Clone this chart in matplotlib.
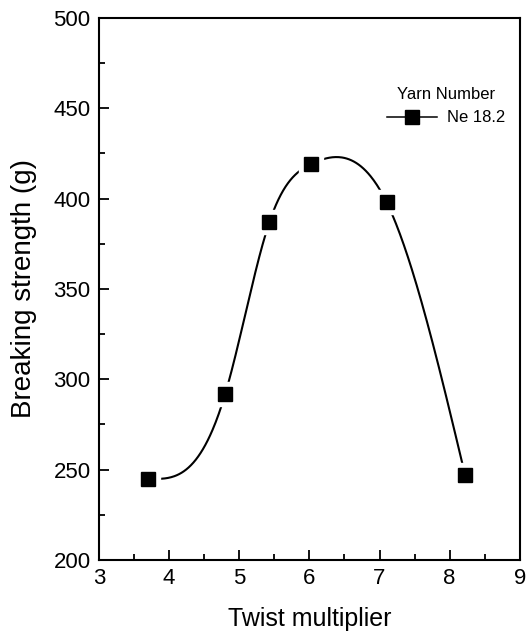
import numpy as np
import matplotlib
matplotlib.use("Agg")
import matplotlib.pyplot as plt
from matplotlib.ticker import MultipleLocator
from matplotlib.lines import Line2D

plt.rcParams['font.family'] = ['Liberation Sans', 'DejaVu Sans']

# data
twist = [3.70, 4.80, 5.43, 6.02, 7.10, 8.22]
strength = [245, 292, 387, 419, 398, 247]
series_name = "Ne 18.2"
legend_title = "Yarn Number"


def natural_spline(x, y, n=400):
    # plain natural cubic spline, only used for the smooth connecting line
    x = np.asarray(x, float)
    y = np.asarray(y, float)
    k = len(x)
    h = np.diff(x)
    A = np.zeros((k, k))
    b = np.zeros(k)
    A[0, 0] = A[-1, -1] = 1
    for i in range(1, k - 1):
        A[i, i - 1] = h[i - 1]
        A[i, i] = 2 * (h[i - 1] + h[i])
        A[i, i + 1] = h[i]
        b[i] = 6 * ((y[i + 1] - y[i]) / h[i] - (y[i] - y[i - 1]) / h[i - 1])
    M = np.linalg.solve(A, b)
    xs = np.linspace(x[0], x[-1], n)
    idx = np.clip(np.searchsorted(x, xs) - 1, 0, k - 2)
    x0, x1 = x[idx], x[idx + 1]
    hh = x1 - x0
    t0 = x1 - xs
    t1 = xs - x0
    ys = (M[idx] * t0**3 + M[idx + 1] * t1**3) / (6 * hh) \
        + (y[idx] / hh - M[idx] * hh / 6) * t0 \
        + (y[idx + 1] / hh - M[idx + 1] * hh / 6) * t1
    return xs, ys


fig = plt.figure(figsize=(5.28, 6.35), dpi=100)
ax = fig.add_axes([0.1875, 0.118, 0.797, 0.854])

xs, ys = natural_spline(twist, strength)
ax.plot(xs, ys, color='black', lw=1.5, zorder=2)
# white halo so the line stops short of each marker
ax.plot(twist, strength, 's', color='white', ms=17, zorder=3)
ax.plot(twist, strength, 's', color='black', ms=10.5, zorder=4)

ax.set_xlim(3, 9)
ax.set_ylim(200, 500)
ax.xaxis.set_major_locator(MultipleLocator(1))
ax.xaxis.set_minor_locator(MultipleLocator(0.5))
ax.yaxis.set_major_locator(MultipleLocator(50))
ax.yaxis.set_minor_locator(MultipleLocator(25))
ax.tick_params(which='both', direction='in', top=False, right=False,
               labelsize=16, width=1.3)
ax.tick_params(which='major', length=7, pad=6)
ax.tick_params(which='minor', length=4)
for s in ax.spines.values():
    s.set_linewidth(1.5)

ax.set_xlabel('Twist multiplier', fontsize=18, labelpad=13)
ax.set_ylabel('Breaking strength (g)', fontsize=20, labelpad=12)

handle = Line2D([], [], color='black', lw=1.1, marker='s', ms=10,
                markeredgecolor='black')
leg = ax.legend([handle], [series_name], title=legend_title, loc='upper right',
                bbox_to_anchor=(1.0, 0.9), frameon=False, fontsize=12,
                title_fontsize=12, handlelength=3.0, handletextpad=0.6)

fig.savefig('out.png', dpi=100)
